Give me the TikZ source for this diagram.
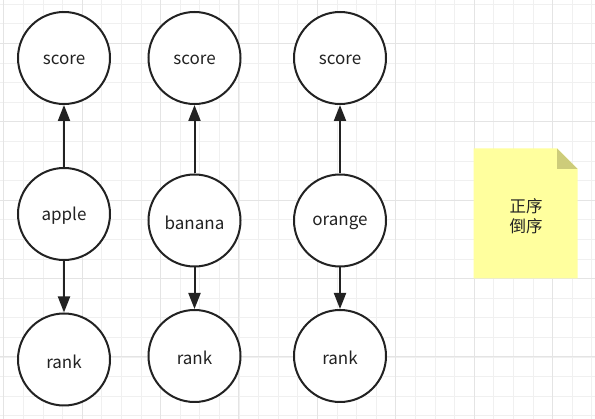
\documentclass[tikz,border=0pt]{standalone}
\usepackage{fontspec}
\setmainfont{Noto Sans CJK SC}
\usetikzlibrary{arrows.meta}
\definecolor{gridminor}{HTML}{F0F0F0}
\definecolor{gridmajor}{HTML}{E4E4E4}
\definecolor{ink}{HTML}{222222}
\definecolor{notefill}{HTML}{FFFF9E}
\definecolor{notefold}{HTML}{CDCC7A}
\begin{document}
\begin{tikzpicture}[x=1pt,y=-1pt,
  circ/.style={circle,draw=ink,line width=2pt,minimum size=92pt,inner sep=0pt,font=\fontsize{17}{20}\selectfont,text=ink,fill=white},
  lbl/.style={font=\fontsize{17}{20}\selectfont,text=ink,inner sep=0pt},
  conn/.style={draw=ink,line width=2pt,-{Triangle[length=16pt,width=12pt]}}]
\useasboundingbox (0,0) rectangle (595,419);
\fill[white] (0,0) rectangle (595,419);
% grid
\foreach \i in {0,...,30} {
  \draw[gridminor,line width=0.6pt] ({3.7+19.6*\i},0) -- ({3.7+19.6*\i},419);
}
\foreach \i in {0,...,21} {
  \draw[gridminor,line width=0.6pt] (0,{4.1+19.6*\i}) -- (595,{4.1+19.6*\i});
}
\foreach \i in {0,...,7} {
  \draw[gridmajor,line width=1pt] ({3.7+78.4*\i},0) -- ({3.7+78.4*\i},419);
}
\foreach \i in {0,...,5} {
  \draw[gridmajor,line width=1pt] (0,{43.3+78.4*(\i-1)+78.4}) -- (595,{43.3+78.4*(\i-1)+78.4});
}
% nodes
\node[circ] (s1) at (64,58) {};
\node[circ] (s2) at (194.5,58) {};
\node[circ] (s3) at (340,58) {};
\node[circ] (a) at (64,214) {};
\node[circ] (b) at (194.5,220.5) {};
\node[circ] (o) at (340,220.5) {};
\node[circ] (r1) at (64,359.5) {};
\node[circ] (r2) at (194.5,356) {};
\node[circ] (r3) at (340,356) {};
\foreach \n/\t in {s1/score,s2/score,s3/score,a/apple,b/banana,o/orange,r1/rank,r2/rank,r3/rank}
  \node[lbl] (\n-t) at ([yshift=-2pt]\n.center) {\t};
\draw[conn] (a) -- (s1);
\draw[conn] (b) -- (s2);
\draw[conn] (o) -- (s3);
\draw[conn] (a) -- (r1);
\draw[conn] (b) -- (r2);
\draw[conn] (o) -- (r3);
% note
\fill[notefill] (473.5,148.5) -- (557,148.5) -- (577.5,169) -- (577.5,278.5) -- (473.5,278.5) -- cycle;
\fill[notefold] (557,148.5) -- (577.5,169) -- (557,169) -- cycle;
\node[align=center,font=\fontsize{16.5}{20.3}\selectfont,text=ink,inner sep=0pt] (note) at (526,216) {正序\\倒序};
\end{tikzpicture}
\end{document}
